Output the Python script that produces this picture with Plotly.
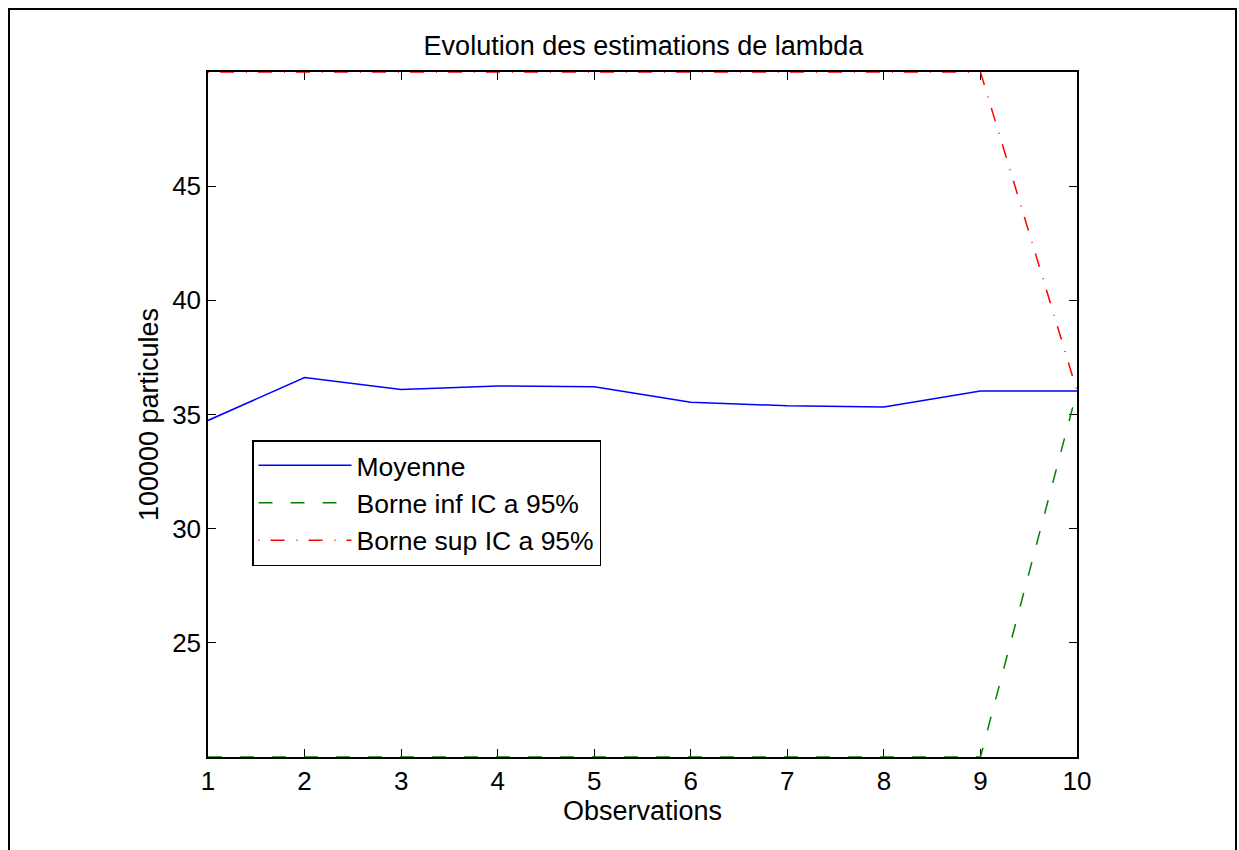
import plotly.graph_objects as go

# Observation index
observations = [1, 2, 3, 4, 5, 6, 7, 8, 9, 10]

# Running estimates of lambda (units of 100000 particles)
moyenne = [34.74, 36.62, 36.10, 36.25, 36.22, 35.54, 35.38, 35.33, 36.03, 36.03]
borne_inf = [20, 20, 20, 20, 20, 20, 20, 20, 20, 36.03]
borne_sup = [50, 50, 50, 50, 50, 50, 50, 50, 50, 36.03]

y_ticks = [25, 30, 35, 40, 45]

FONT = "Liberation Sans, Arial, Helvetica, sans-serif"
FS_TICK = 26
FS_TITLE = 27
FS_LEGEND = 26.5

fig = go.Figure()
fig.add_trace(go.Scatter(
    x=observations, y=moyenne, mode="lines", name="Moyenne",
    line=dict(color="#0000ff", width=1.5),
))
fig.add_trace(go.Scatter(
    x=observations, y=borne_inf, mode="lines", name="Borne inf IC a 95%",
    line=dict(color="#008000", width=1.5, dash="14px,18px"),
))
fig.add_trace(go.Scatter(
    x=observations, y=borne_sup, mode="lines", name="Borne sup IC a 95%",
    line=dict(color="#ff0000", width=1.5, dash="1px,11px,14px,12px"),
))

axis_common = dict(
    showline=True, linecolor="black", linewidth=1.5, mirror="ticks",
    ticks="inside", ticklen=8, tickwidth=1, tickcolor="black",
    showgrid=False, zeroline=False, layer="below traces",
    tickfont=dict(family=FONT, size=FS_TICK, color="black"),
)

fig.update_layout(
    width=1239, height=850,
    margin=dict(l=208, r=162, t=72, b=93),
    paper_bgcolor="white", plot_bgcolor="white",
    font=dict(family=FONT, size=FS_TICK, color="black"),
    title=dict(
        text="Evolution des estimations de lambda",
        x=(210 + 1077) / 2 / 1239, xanchor="center",
        y=1 - 46 / 850, yanchor="middle", yref="container",
        font=dict(family=FONT, size=FS_TITLE, color="black"),
    ),
    xaxis=dict(
        range=[1, 10], tickvals=observations,
        title=dict(text="Observations", standoff=0,
                   font=dict(family=FONT, size=FS_TITLE, color="black")),
        automargin=False,
        **axis_common,
    ),
    yaxis=dict(
        range=[20, 50], tickvals=y_ticks,
        title=dict(text="100000 particules", standoff=6,
                   font=dict(family=FONT, size=FS_TITLE, color="black")),
        automargin=False,
        **axis_common,
    ),
    legend=dict(
        x=(252 - 208) / 869, y=(757 - 440) / 685,
        xanchor="left", yanchor="top",
        bgcolor="white", bordercolor="black", borderwidth=1.5,
        font=dict(family=FONT, size=FS_LEGEND, color="black"),
        itemwidth=93, tracegroupgap=0,
    ),
    showlegend=True,
    shapes=[dict(
        type="rect", xref="paper", yref="paper",
        x0=(9 - 208) / 869, x1=(1236 - 208) / 869,
        y0=(757 - 870) / 685, y1=(757 - 9) / 685,
        line=dict(color="black", width=2), fillcolor="rgba(0,0,0,0)",
        layer="below",
    )],
)

fig.write_html("out.html")
